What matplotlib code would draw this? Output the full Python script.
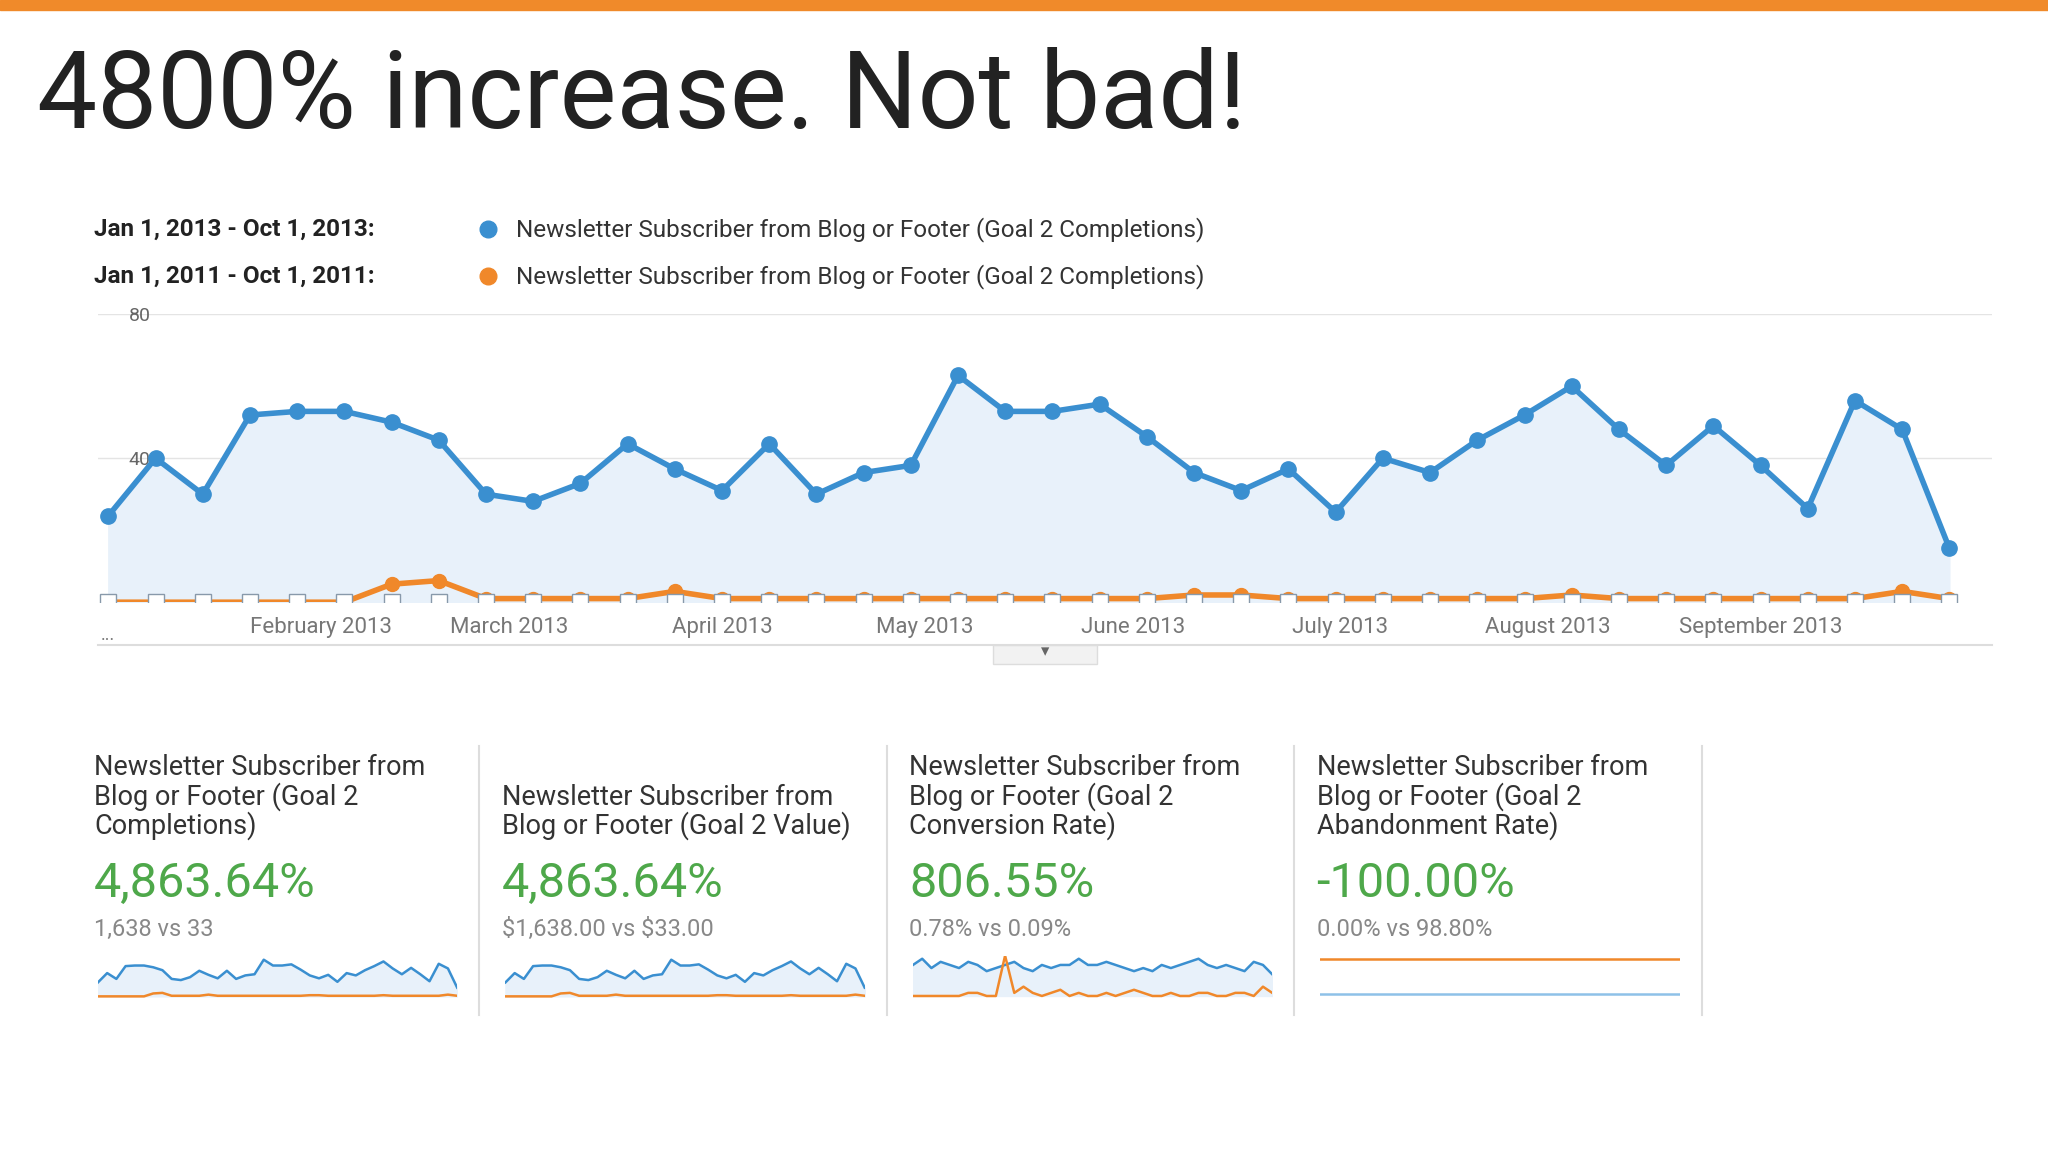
import matplotlib.pyplot as plt
from matplotlib.lines import Line2D
from matplotlib.patches import Rectangle

plt.rcParams['font.family'] = ['Roboto', 'DejaVu Sans']

# weekly goal completions, 2013 vs 2011
blue_2013 = [24, 40, 30, 52, 53, 53, 50, 45, 30, 28, 33, 44, 37, 31, 44, 30, 36, 38, 63, 53,
             53, 55, 46, 36, 31, 37, 25, 40, 36, 45, 52, 60, 48, 38, 49, 38, 26, 56, 48, 15]
orange_2011 = [0, 0, 0, 0, 0, 0, 5, 6, 1, 1, 1, 1, 3, 1, 1, 1, 1, 1, 1, 1,
               1, 1, 1, 2, 2, 1, 1, 1, 1, 1, 1, 2, 1, 1, 1, 1, 1, 1, 3, 1]
month_labels = ['February 2013', 'March 2013', 'April 2013', 'May 2013', 'June 2013',
                'July 2013', 'August 2013', 'September 2013']
month_pos = [4.5, 8.5, 13.0, 17.3, 21.7, 26.1, 30.5, 35.0]

card_titles = ['Newsletter Subscriber from\nBlog or Footer (Goal 2\nCompletions)',
               'Newsletter Subscriber from\nBlog or Footer (Goal 2 Value)',
               'Newsletter Subscriber from\nBlog or Footer (Goal 2\nConversion Rate)',
               'Newsletter Subscriber from\nBlog or Footer (Goal 2\nAbandonment Rate)']
card_values = ['4,863.64%', '4,863.64%', '806.55%', '-100.00%']
card_compare = ['1,638 vs 33', r'\$1,638.00 vs \$33.00', '0.78% vs 0.09%', '0.00% vs 98.80%']
conv_2013 = [1.0, 1.2, 0.9, 1.1, 1.0, 0.9, 1.1, 1.0, 0.8, 0.9, 1.0, 1.1, 0.9, 0.8, 1.0, 0.9,
             1.0, 1.0, 1.2, 1.0, 1.0, 1.1, 1.0, 0.9, 0.8, 0.9, 0.8, 1.0, 0.9, 1.0, 1.1, 1.2,
             1.0, 0.9, 1.0, 0.9, 0.8, 1.1, 1.0, 0.7]
conv_2011 = [0, 0, 0, 0, 0, 0, 0.1, 0.1, 0, 0, 1.3, 0.1, 0.3, 0.1, 0, 0.1, 0.2, 0, 0.1, 0,
             0, 0.1, 0, 0.1, 0.2, 0.1, 0, 0, 0.1, 0, 0, 0.1, 0.1, 0, 0, 0.1, 0.1, 0, 0.3, 0.1]

BLUE = '#3a8fd0'
ORANGE = '#f0882a'
W, H = 1568, 880  # layout worked out in reference pixels


def fx(x):
    return x / W


def fy(y):
    return 1 - y / H


fig = plt.figure(figsize=(20.48, 11.52), dpi=100)
fig.patches.append(Rectangle((0, fy(8)), 1, 8 / H, transform=fig.transFigure, color='#f08a2a'))
fig.text(fx(28), fy(75), '4800% increase. Not bad!', fontsize=77, va='center', color='#222222')

# legend rows
for y, lab, col in [(175, 'Jan 1, 2013 - Oct 1, 2013:', BLUE), (211, 'Jan 1, 2011 - Oct 1, 2011:', ORANGE)]:
    fig.text(fx(72), fy(y), lab, fontsize=17.5, fontweight='bold', va='center', color='#222222')
    fig.add_artist(Line2D([fx(374)], [fy(y)], marker='o', color=col, markersize=12,
                          transform=fig.transFigure))
    fig.text(fx(395), fy(y), 'Newsletter Subscriber from Blog or Footer (Goal 2 Completions)',
             fontsize=17.5, va='center', color='#333333')

# main chart
ax = fig.add_axes([fx(75), fy(460), fx(1525 - 75), (460 - 240) / H])
x = list(range(len(blue_2013)))
ax.fill_between(x, blue_2013, color='#e8f1fa')
ax.plot(x, blue_2013, color=BLUE, lw=4, marker='o', ms=11, zorder=3)
ax.plot(x, orange_2011, color=ORANGE, lw=4, marker='o', ms=10, zorder=4)
ax.plot(x, [0] * len(x), ls='none', marker='s', ms=11, mfc='white', mec='#8899aa', zorder=5)
ax.set_xlim(-0.22, 39.9)
ax.set_ylim(0, 80)
ax.set_yticks([40, 80])
ax.grid(axis='y', color='#e4e4e4', lw=1)
ax.set_xticks([])
ax.tick_params(axis='y', length=0, labelsize=14, labelcolor='#666666', pad=-38)
for s in ax.spines.values():
    s.set_visible(False)
ax.set_axisbelow(True)
for p, m in zip(month_pos, month_labels):
    ax.text(p, -7, m, ha='center', va='center', fontsize=16, color='#777777')
ax.text(0, -9, '...', ha='center', va='center', fontsize=13, color='#777777')
fig.add_artist(Line2D([fx(75), fx(1525)], [fy(493), fy(493)], color='#dddddd', lw=1.5,
                      transform=fig.transFigure))
fig.patches.append(Rectangle((fx(760), fy(507)), fx(80), 14 / H, transform=fig.transFigure,
                             facecolor='#f2f2f2', edgecolor='#dddddd'))
fig.text(fx(800), fy(498), '▾', ha='center', va='center', fontsize=12, color='#666666')

# scorecards
lefts = [72, 384, 696, 1008]
for i, lx in enumerate(lefts):
    fig.text(fx(lx), fy(642), card_titles[i], fontsize=19.5, va='bottom', color='#333333',
             linespacing=1.05)
    fig.text(fx(lx), fy(675), card_values[i], fontsize=35, va='center', color='#4ea84a')
    fig.text(fx(lx), fy(710), card_compare[i], fontsize=17, va='center', color='#888888')
    fig.add_artist(Line2D([fx(lx + 295)] * 2, [fy(570), fy(775)], color='#dddddd', lw=1.5,
                          transform=fig.transFigure))
    sp = fig.add_axes([fx(lx + 3), fy(762), fx(275), 32 / H])
    sp.axis('off')
    if i < 2:
        sp.fill_between(x, blue_2013, color='#e8f1fa')
        sp.plot(x, blue_2013, color=BLUE, lw=1.8)
        sp.plot(x, orange_2011, color=ORANGE, lw=1.8)
        sp.set_ylim(-2, 70)
    elif i == 2:
        sp.fill_between(x, conv_2013, color='#e8f1fa')
        sp.plot(x, conv_2013, color=BLUE, lw=1.8)
        sp.plot(x, conv_2011, color=ORANGE, lw=1.8)
        sp.set_ylim(-0.05, 1.3)
    else:
        sp.plot(x, [1] * len(x), color=ORANGE, lw=1.8)
        sp.plot(x, [0] * len(x), color='#8ec1e8', lw=1.8)
        sp.set_ylim(-0.1, 1.1)
    sp.set_xlim(0, len(x) - 1)

fig.savefig('out.png', dpi=100, facecolor='white')
